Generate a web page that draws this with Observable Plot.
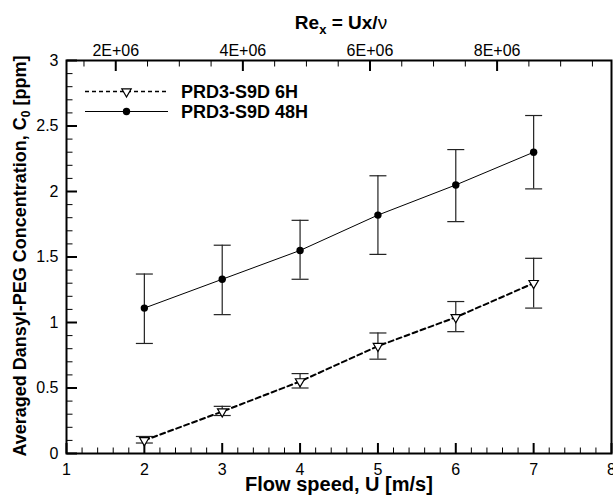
<!DOCTYPE html>
<html><head><meta charset="utf-8">
<script src="https://cdn.jsdelivr.net/npm/d3@7"></script>
<script src="https://cdn.jsdelivr.net/npm/@observablehq/plot@0.6"></script>
<style>html,body{margin:0;padding:0;background:#fff}#chart{width:613px;height:496px}</style>
</head><body><div id="chart"></div>
<script>
// ---- data ----
const speeds = [2, 3, 4, 5, 6, 7];
const conc6h   = [0.10, 0.32, 0.55, 0.82, 1.04, 1.30];
const conc6hLo = [0.08, 0.29, 0.50, 0.72, 0.93, 1.11];
const conc6hHi = [0.13, 0.36, 0.61, 0.92, 1.16, 1.49];
const conc48h   = [1.11, 1.33, 1.55, 1.82, 2.05, 2.30];
const conc48hLo = [0.84, 1.06, 1.33, 1.52, 1.77, 2.02];
const conc48hHi = [1.37, 1.59, 1.78, 2.12, 2.32, 2.58];
const seriesNames = ["PRD3-S9D 6H", "PRD3-S9D 48H"];

const xMajor = [1, 2, 3, 4, 5, 6, 7, 8];
const xMinor = [1.2,1.4,1.6,1.8,2.2,2.4,2.6,2.8,3.2,3.4,3.6,3.8,4.2,4.4,4.6,4.8,5.2,5.4,5.6,5.8,6.2,6.4,6.6,6.8,7.2,7.4,7.6,7.8];
const yMajor = [0, 0.5, 1, 1.5, 2, 2.5, 3];
const yLabels = ["0", "0.5", "1", "1.5", "2", "2.5", "3"];
const yMinor = [0.1,0.2,0.3,0.4,0.6,0.7,0.8,0.9,1.1,1.2,1.3,1.4,1.6,1.7,1.8,1.9,2.1,2.2,2.3,2.4,2.6,2.7,2.8,2.9];
const reMajor = [2e6, 4e6, 6e6, 8e6];
const reLabels = ["2E+06", "4E+06", "6E+06", "8E+06"];
const reMinor = [1.5e6,2.5e6,3e6,3.5e6,4.5e6,5e6,5.5e6,6.5e6,7e6,7.5e6,8.5e6,9e6,9.5e6];
const rePerSpeed = 1.225e6; // Re_x per (m/s)

// ---- tables ----
const rows6 = speeds.map((u, i) => ({u, c: conc6h[i], lo: conc6hLo[i], hi: conc6hHi[i]}));
const rows48 = speeds.map((u, i) => ({u, c: conc48h[i], lo: conc48hLo[i], hi: conc48hHi[i]}));
const reMajorU = reMajor.map(r => r / rePerSpeed);
const reMinorU = reMinor.map(r => r / rePerSpeed);
const reLabelByU = new Map(reMajorU.map((u, i) => [u, reLabels[i]]));
const yLabelByV = new Map(yMajor.map((v, i) => [v, yLabels[i]]));

const cap = {draw(ctx) { ctx.moveTo(-8.5, 0); ctx.lineTo(8.5, 0); }};
const tickUp = len => ({draw(ctx) { ctx.moveTo(0, 0); ctx.lineTo(0, -len); }});
const tickDown = len => ({draw(ctx) { ctx.moveTo(0, 0); ctx.lineTo(0, len); }});
const tickRight = len => ({draw(ctx) { ctx.moveTo(0, 0); ctx.lineTo(len, 0); }});
const errColor = "#222";
const W = 613, H = 496, ML = 66, MR = 2, MT = 60, MB = 43;
const MAJ = 10.5, MIN = 6;

const svg = Plot.plot({
  width: W, height: H,
  marginLeft: ML, marginRight: MR, marginTop: MT, marginBottom: MB,
  style: {fontFamily: "'Liberation Sans', Arial, sans-serif", fontSize: "16px", background: "#fff", color: "#000"},
  x: {domain: [1, 8]},
  y: {domain: [0, 3]},
  marks: [
    // inward ticks drawn as custom-symbol dots on the frame edges
    Plot.dot(xMajor, {x: d => d, frameAnchor: "bottom", symbol: tickUp(MAJ), stroke: "#000", strokeWidth: 2}),
    Plot.dot(xMinor, {x: d => d, frameAnchor: "bottom", symbol: tickUp(MIN), stroke: "#000", strokeWidth: 1}),
    Plot.dot(reMajorU, {x: d => d, frameAnchor: "top", symbol: tickDown(MAJ), stroke: "#000", strokeWidth: 2}),
    Plot.dot(reMinorU, {x: d => d, frameAnchor: "top", symbol: tickDown(MIN), stroke: "#000", strokeWidth: 1}),
    Plot.dot(yMajor, {y: d => d, frameAnchor: "left", symbol: tickRight(MAJ), stroke: "#000", strokeWidth: 2}),
    Plot.dot(yMinor, {y: d => d, frameAnchor: "left", symbol: tickRight(MIN), stroke: "#000", strokeWidth: 1}),
    // error bars
    Plot.ruleX(rows48, {x: "u", y1: "lo", y2: "hi", stroke: errColor, strokeWidth: 1.2}),
    Plot.dot(rows48, {x: "u", y: "lo", symbol: cap, stroke: errColor, strokeWidth: 1.2}),
    Plot.dot(rows48, {x: "u", y: "hi", symbol: cap, stroke: errColor, strokeWidth: 1.2}),
    Plot.ruleX(rows6, {x: "u", y1: "lo", y2: "hi", stroke: errColor, strokeWidth: 1.2}),
    Plot.dot(rows6, {x: "u", y: "lo", symbol: cap, stroke: errColor, strokeWidth: 1.2}),
    Plot.dot(rows6, {x: "u", y: "hi", symbol: cap, stroke: errColor, strokeWidth: 1.2}),
    // lines
    Plot.line(rows48, {x: "u", y: "c", stroke: "#000", strokeWidth: 1}),
    Plot.line(rows6, {x: "u", y: "c", stroke: "#000", strokeWidth: 2, strokeDasharray: "5,3.5"}),
    // markers
    Plot.dot(rows48, {x: "u", y: "c", r: 3.7, fill: "#000", stroke: null}),
    Plot.dot(rows6, {x: "u", y: "c", r: 3.5, symbol: "triangle", rotate: 180, fill: "#fff", stroke: "#000", strokeWidth: 1.2}),
    // tick labels
    Plot.axisX(xMajor, {anchor: "bottom", tickSize: 0, tickPadding: 10, fontSize: 16, tickFormat: d => String(d), label: null}),
    Plot.axisX(reMajorU, {anchor: "top", tickSize: 0, tickPadding: 5, fontSize: 16, tickFormat: u => reLabelByU.get(u), label: null}),
    Plot.axisY(yMajor, {anchor: "left", tickSize: 0, tickPadding: 8, fontSize: 16, tickFormat: v => yLabelByV.get(v), label: null}),
    Plot.frame({stroke: "#000", strokeWidth: 2})
  ]
});

const s = d3.select(svg);
const fam = "'Liberation Sans', Arial, sans-serif";

// ---- titles (with subscripts) ----
s.append("text").attr("x", 339).attr("y", 491).attr("text-anchor", "middle")
  .attr("font-family", fam).attr("font-weight", "bold").attr("font-size", 20)
  .text("Flow speed, U [m/s]");
const yl = s.append("text").attr("transform", "translate(26,256) rotate(-90)").attr("text-anchor", "middle")
  .attr("font-family", fam).attr("font-weight", "bold").attr("font-size", 18);
yl.append("tspan").text("Averaged Dansyl-PEG Concentration, C");
yl.append("tspan").attr("font-size", 12).attr("dy", 4).text("0");
yl.append("tspan").attr("dy", -4).text(" [ppm]");
const tt = s.append("text").attr("x", 341).attr("y", 29).attr("text-anchor", "middle")
  .attr("font-family", fam).attr("font-weight", "bold").attr("font-size", 19);
tt.append("tspan").text("Re");
tt.append("tspan").attr("font-size", 13).attr("dy", 5).text("x");
tt.append("tspan").attr("dy", -5).text(" = Ux/");
tt.append("tspan").attr("font-weight", "normal").text("ν");

// ---- legend ----
const lg = s.append("g").attr("text-anchor", "start");
const rowsY = [91.5, 111.5];
lg.append("line").attr("x1", 85).attr("x2", 168).attr("y1", rowsY[0]).attr("y2", rowsY[0])
  .attr("stroke", "#000").attr("stroke-width", 1.5).attr("stroke-dasharray", "4,3");
lg.append("path").attr("d", d3.symbol(d3.symbolTriangle, Math.PI * 3.5 * 3.5)())
  .attr("transform", `translate(126.5,${rowsY[0]}) rotate(180)`).attr("fill", "#fff").attr("stroke", "#000").attr("stroke-width", 1.2);
lg.append("line").attr("x1", 85).attr("x2", 168).attr("y1", rowsY[1]).attr("y2", rowsY[1])
  .attr("stroke", "#000").attr("stroke-width", 1);
lg.append("circle").attr("cx", 126.5).attr("cy", rowsY[1]).attr("r", 3.7).attr("fill", "#000");
seriesNames.forEach((name, i) => {
  lg.append("text").attr("x", 181).attr("y", rowsY[i]).attr("dy", "0.35em").attr("text-anchor", "start")
    .attr("font-family", fam).attr("font-weight", "bold").attr("font-size", 18).text(name);
});

document.getElementById("chart").appendChild(svg);
</script>
</body></html>
